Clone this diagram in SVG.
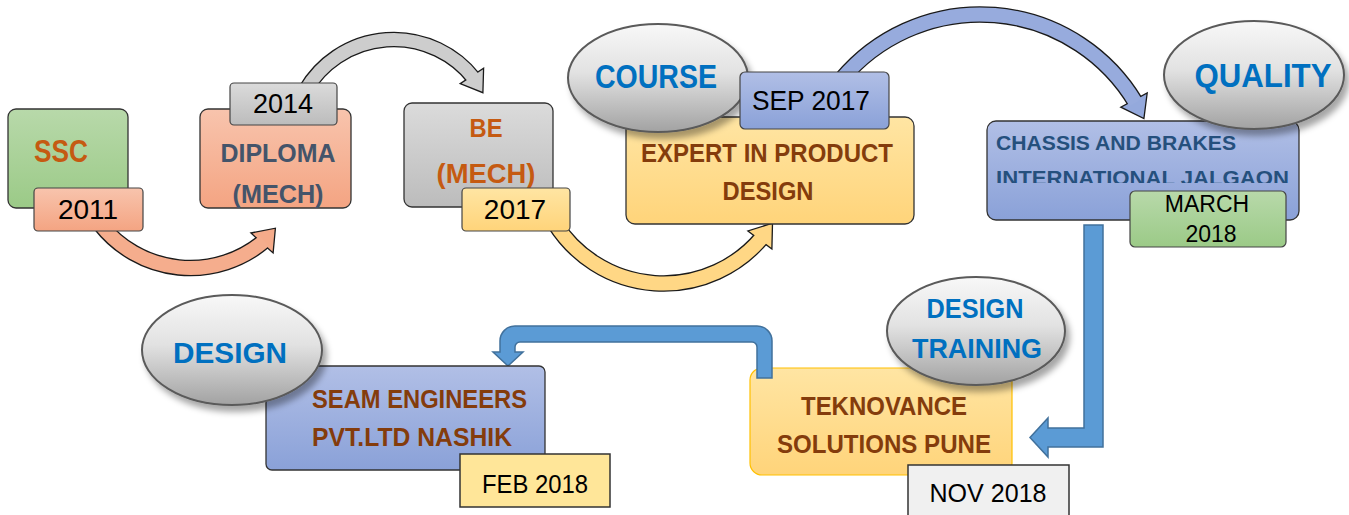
<svg xmlns="http://www.w3.org/2000/svg" width="1349" height="515" viewBox="0 0 1349 515">
<defs>
<linearGradient id="gGreen" x1="0" y1="0" x2="0" y2="1"><stop offset="0" stop-color="#b8d9aa"/><stop offset="1" stop-color="#9bca87"/></linearGradient>
<linearGradient id="gSalmon" x1="0" y1="0" x2="0" y2="1"><stop offset="0" stop-color="#f8c4ad"/><stop offset="1" stop-color="#f4a482"/></linearGradient>
<linearGradient id="gGray" x1="0" y1="0" x2="0" y2="1"><stop offset="0" stop-color="#dbdbdb"/><stop offset="1" stop-color="#bcbcbc"/></linearGradient>
<linearGradient id="gYellow" x1="0" y1="0" x2="0" y2="1"><stop offset="0" stop-color="#ffe5a3"/><stop offset="1" stop-color="#ffd47a"/></linearGradient>
<linearGradient id="gBlue" x1="0" y1="0" x2="0" y2="1"><stop offset="0" stop-color="#b1bfe6"/><stop offset="1" stop-color="#8aa1d8"/></linearGradient>
<linearGradient id="gEll" x1="0" y1="0" x2="0" y2="1"><stop offset="0" stop-color="#f8f8f8"/><stop offset="0.45" stop-color="#e2e2e2"/><stop offset="1" stop-color="#a2a2a2"/></linearGradient>
<filter id="sh" x="-20%" y="-20%" width="150%" height="160%"><feDropShadow dx="4" dy="6" stdDeviation="3" flood-color="#000" flood-opacity="0.35"/></filter>
<clipPath id="clipChassis"><rect x="987" y="121" width="312" height="62"/></clipPath>
<style>
.box{stroke:#333;stroke-width:1.3}
.lbl{stroke:#444;stroke-width:1.2}
.ell{fill:url(#gEll);stroke:#5a5a5a;stroke-width:2;filter:url(#sh)}
.b{font-family:"Liberation Sans",Arial,sans-serif;font-weight:bold}
.r{font-family:"Liberation Sans",Arial,sans-serif;fill:#000}
.c{text-anchor:middle}
.org{fill:#c55a11}
.sl{fill:#44546a}
.br{fill:#843c0c}
.db{fill:#25507d}
.eb{fill:#0070c0}
.outl{fill:none;stroke:#1a1a1a}
.hd{stroke:#1a1a1a;stroke-width:1.3;stroke-linejoin:miter}
.bl{fill:#5b9bd5;stroke:#41719c;stroke-width:1.5}
</style>
</defs>

<g id="node-teknovance">
<rect x="750" y="368" width="262" height="107" rx="12" fill="url(#gYellow)" stroke="#ffc000" stroke-width="1.2"/>
<text class="b br c" x="884" y="415" font-size="26" textLength="166" lengthAdjust="spacingAndGlyphs">TEKNOVANCE</text>
<text class="b br c" x="884" y="453" font-size="26" textLength="214" lengthAdjust="spacingAndGlyphs">SOLUTIONS PUNE</text>
<ellipse class="ell" cx="976" cy="331" rx="89" ry="54"/>
<text class="b eb c" x="975" y="318" font-size="28" textLength="97" lengthAdjust="spacingAndGlyphs">DESIGN</text>
<text class="b eb c" x="977" y="358" font-size="28" textLength="130" lengthAdjust="spacingAndGlyphs">TRAINING</text>
<rect x="908" y="465" width="161" height="60" fill="#f0f0f0" stroke="#333" stroke-width="1.5"/>
<text class="r c" x="988" y="502" font-size="26" textLength="117" lengthAdjust="spacingAndGlyphs">NOV 2018</text>
</g>

<g id="connectors">
<path class="outl" stroke-width="16.6" d="M100.25,224.03 A114.4,114.4 0 0,0 264.2,241.0"/>
<polygon class="hd" fill="#f5ab8a" points="275.4,228.2 273.1,253.0 250.9,233.0"/>
<path fill="none" stroke="#f5ad8d" stroke-width="14" d="M100.25,224.03 A114.4,114.4 0 0,0 264.2,241.0"/>
<path class="outl" stroke-width="15.6" d="M305.3,90.55 A102.1,102.1 0 0,1 473.8,78.3"/>
<polygon class="hd" fill="#cdcdcd" points="482.9,92.7 483.6,68.3 460.2,83.7"/>
<path fill="none" stroke="#cdcdcd" stroke-width="13" d="M305.3,90.55 A102.1,102.1 0 0,1 473.8,78.3"/>
<path class="outl" stroke-width="16.6" d="M554.7,223.1 A128.4,128.4 0 0,0 761.9,237.7"/>
<polygon class="hd" fill="#ffd785" points="772.5,223.2 771.9,249 747.9,231"/>
<path fill="none" stroke="#ffd785" stroke-width="14" d="M554.7,223.1 A128.4,128.4 0 0,0 761.9,237.7"/>
<path class="outl" stroke-width="16.6" d="M841.7,79.1 A180.9,180.9 0 0,1 1135.6,102.6"/>
<polygon class="hd" fill="#94a9dc" points="1143.9,118.6 1147.2,93 1120.8,107.2"/>
<path fill="none" stroke="#97abdd" stroke-width="14" d="M841.7,79.1 A180.9,180.9 0 0,1 1135.6,102.6"/>
<polygon class="bl" points="1084,225 1103,225 1103,447 1048,447 1048,457 1030,437.5 1048,418 1048,428 1084,428"/>
<path class="bl" d="M772,378 L772,341 A15,15 0 0,0 757,326 L515,326 A15,15 0 0,0 500,341 L500,352 L493,352 L508,366 L523,352 L515,352 L515,347 A5,5 0 0,1 520,342 L752,342 A5,5 0 0,1 757,347 L757,378 Z"/>
</g>

<g id="node-ssc">
<rect class="box" x="8" y="109" width="120" height="99" rx="8" fill="url(#gGreen)"/>
<text class="b org c" x="61" y="162" font-size="31" textLength="54" lengthAdjust="spacingAndGlyphs">SSC</text>
<rect class="lbl" x="34" y="188" width="109" height="43" rx="4" fill="url(#gSalmon)"/>
<text class="r c" x="88" y="219" font-size="28">2011</text>
</g>

<g id="node-diploma">
<rect class="box" x="200" y="109" width="151" height="99" rx="8" fill="url(#gSalmon)"/>
<text class="b sl c" x="278" y="162" font-size="26" textLength="115" lengthAdjust="spacingAndGlyphs">DIPLOMA</text>
<text class="b sl c" x="278" y="203" font-size="26" textLength="91" lengthAdjust="spacingAndGlyphs">(MECH)</text>
<rect class="lbl" x="230" y="83" width="107" height="42" rx="4" fill="url(#gGray)"/>
<text class="r c" x="283" y="113" font-size="27">2014</text>
</g>

<g id="node-be">
<rect class="box" x="404" y="103" width="149" height="104" rx="8" fill="url(#gGray)"/>
<text class="b org c" x="486" y="137" font-size="26" textLength="33" lengthAdjust="spacingAndGlyphs">BE</text>
<text class="b org c" x="486" y="183" font-size="27" textLength="99" lengthAdjust="spacingAndGlyphs">(MECH)</text>
<rect class="lbl" x="462" y="188" width="108" height="43" rx="4" fill="url(#gYellow)"/>
<text class="r c" x="515" y="219" font-size="28">2017</text>
</g>

<g id="node-expert">
<rect class="box" x="626" y="117" width="288" height="107" rx="9" fill="url(#gYellow)"/>
<text class="b br c" x="767" y="162" font-size="26" textLength="252" lengthAdjust="spacingAndGlyphs">EXPERT IN PRODUCT</text>
<text class="b br c" x="768" y="200" font-size="26" textLength="91" lengthAdjust="spacingAndGlyphs">DESIGN</text>
<ellipse class="ell" cx="658" cy="78" rx="90" ry="54"/>
<text class="b eb c" x="656" y="88" font-size="33" textLength="122" lengthAdjust="spacingAndGlyphs">COURSE</text>
<rect class="lbl" x="740" y="72" width="149" height="57" rx="5" fill="url(#gBlue)"/>
<text class="r c" x="811" y="110" font-size="27" textLength="118" lengthAdjust="spacingAndGlyphs">SEP 2017</text>
</g>

<g id="node-chassis">
<rect class="box" x="987" y="121" width="312" height="99" rx="9" fill="url(#gBlue)"/>
<text class="b db" x="996" y="150" font-size="21" textLength="240" lengthAdjust="spacingAndGlyphs">CHASSIS AND BRAKES</text>
<text class="b db" x="996" y="185" font-size="21" textLength="293" lengthAdjust="spacingAndGlyphs" clip-path="url(#clipChassis)">INTERNATIONAL JALGAON</text>
<ellipse class="ell" cx="1254" cy="75" rx="90" ry="54"/>
<text class="b eb c" x="1263" y="87" font-size="33" textLength="137" lengthAdjust="spacingAndGlyphs">QUALITY</text>
<rect class="lbl" x="1130" y="191" width="156" height="56" rx="5" fill="url(#gGreen)"/>
<text class="r c" x="1207" y="212" font-size="23">MARCH</text>
<text class="r c" x="1211" y="242" font-size="23">2018</text>
</g>

<g id="node-seam">
<rect class="box" x="266" y="366" width="279" height="104" rx="6" fill="url(#gBlue)"/>
<text class="b br" x="312" y="408" font-size="26" textLength="215" lengthAdjust="spacingAndGlyphs">SEAM ENGINEERS</text>
<text class="b br" x="312" y="446" font-size="26" textLength="200" lengthAdjust="spacingAndGlyphs">PVT.LTD NASHIK</text>
<ellipse class="ell" cx="232" cy="350" rx="90" ry="55"/>
<text class="b eb c" x="230" y="363" font-size="30" textLength="114" lengthAdjust="spacingAndGlyphs">DESIGN</text>
<rect x="460" y="454" width="150" height="53" fill="#ffe699" stroke="#333" stroke-width="1.5"/>
<text class="r c" x="535" y="493" font-size="26" textLength="106" lengthAdjust="spacingAndGlyphs">FEB 2018</text>
</g>
</svg>
